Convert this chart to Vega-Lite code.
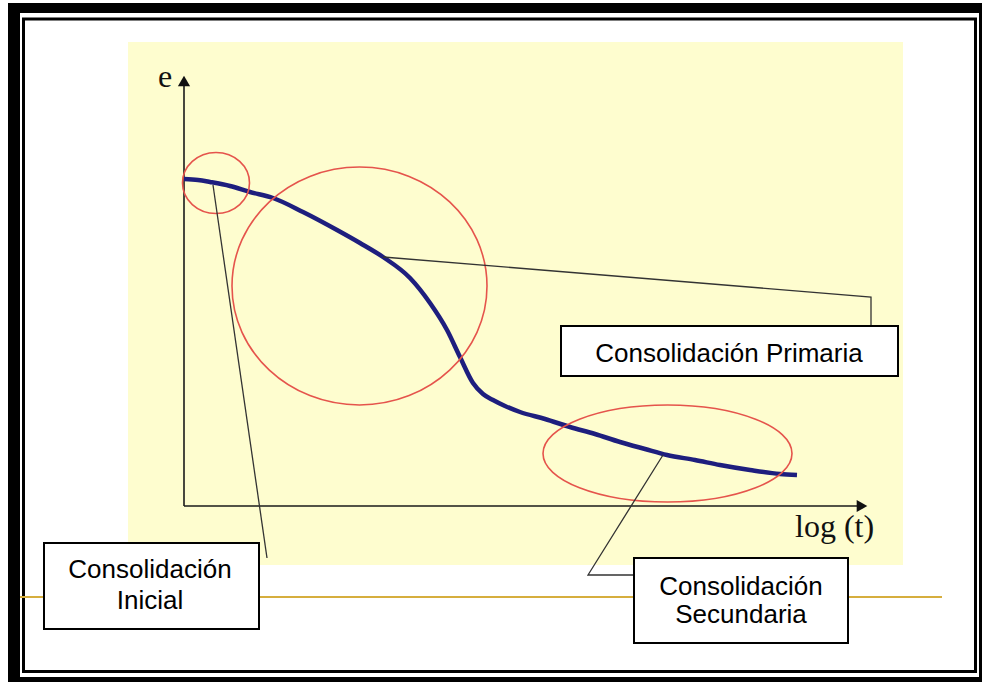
{
  "$schema": "https://vega.github.io/schema/vega-lite/v6.json",
  "width": 982,
  "height": 682,
  "autosize": {"type": "fit", "contains": "padding"},
  "padding": 0,
  "background": "white",
  "config": {"view": {"stroke": null}},
  "datasets": {
    "frameOuter": [
      {"x1": 8, "x2": 20, "y1": 3, "y2": 682},
      {"x1": 8, "x2": 982, "y1": 3, "y2": 13},
      {"x1": 979, "x2": 982, "y1": 3, "y2": 682},
      {"x1": 8, "x2": 982, "y1": 677, "y2": 682}
    ],
    "frameInner": [{"x1": 23.5, "x2": 975.5, "y1": 19, "y2": 671.5}],
    "panel": [{"x1": 128, "x2": 903, "y1": 42, "y2": 565}],
    "rule": [{"x": 20, "y": 597}, {"x": 942, "y": 597}],
    "axes": [
      {"a": "e", "o": 1, "x": 184, "y": 506},
      {"a": "e", "o": 2, "x": 184, "y": 86},
      {"a": "t", "o": 1, "x": 184, "y": 506},
      {"a": "t", "o": 2, "x": 857, "y": 506}
    ],
    "arrows": [
      {"dir": "up", "x": 184, "y": 81},
      {"dir": "right", "x": 862, "y": 506}
    ],
    "curve": [
      {"x": 184, "y": 179}, {"x": 198, "y": 180}, {"x": 210, "y": 182},
      {"x": 230, "y": 186}, {"x": 250, "y": 192}, {"x": 273, "y": 198},
      {"x": 303, "y": 212}, {"x": 337, "y": 230}, {"x": 360, "y": 243},
      {"x": 383, "y": 257}, {"x": 410, "y": 278}, {"x": 430, "y": 303},
      {"x": 447, "y": 330}, {"x": 460, "y": 357}, {"x": 473, "y": 383},
      {"x": 483, "y": 394}, {"x": 493, "y": 400}, {"x": 505, "y": 406},
      {"x": 520, "y": 412}, {"x": 545, "y": 419}, {"x": 570, "y": 427},
      {"x": 595, "y": 434}, {"x": 620, "y": 442}, {"x": 645, "y": 449},
      {"x": 667, "y": 455}, {"x": 695, "y": 460}, {"x": 720, "y": 465},
      {"x": 750, "y": 470}, {"x": 780, "y": 474}, {"x": 797, "y": 475}
    ],
    "zoneInicial": [{"x": 216, "y": 183}],
    "zonePrimaria": [{"x": 359.5, "y": 286}],
    "zoneSecundaria": [{"x": 667.5, "y": 453.5}],
    "leaders": [
      {"g": "ini", "o": 1, "x": 213, "y": 185},
      {"g": "ini", "o": 2, "x": 267, "y": 558},
      {"g": "pri", "o": 1, "x": 383, "y": 257},
      {"g": "pri", "o": 2, "x": 871, "y": 297},
      {"g": "pri", "o": 3, "x": 871, "y": 326},
      {"g": "sec", "o": 1, "x": 663, "y": 455},
      {"g": "sec", "o": 2, "x": 588, "y": 575},
      {"g": "sec", "o": 3, "x": 634, "y": 575}
    ],
    "boxes": [
      {"x1": 561, "x2": 898, "y1": 326, "y2": 376},
      {"x1": 44, "x2": 259, "y1": 543, "y2": 629},
      {"x1": 634, "x2": 848, "y1": 558, "y2": 643}
    ],
    "sansLabels": [
      {"t": "Consolidación Primaria", "x": 729, "y": 362},
      {"t": "Consolidación", "x": 150, "y": 578},
      {"t": "Inicial", "x": 150, "y": 609},
      {"t": "Consolidación", "x": 741, "y": 595},
      {"t": "Secundaria", "x": 741, "y": 623}
    ],
    "serifLabels": [
      {"t": "e", "x": 158, "y": 87},
      {"t": "log (t)", "x": 795, "y": 537}
    ]
  },
  "layer": [
    {
      "data": {"name": "frameOuter"},
      "mark": {"type": "rect", "fill": "black", "stroke": null},
      "encoding": {
        "x": {"field": "x1", "type": "quantitative", "scale": {"domain": [0, 982], "nice": false, "zero": false}, "axis": null},
        "x2": {"field": "x2"},
        "y": {"field": "y1", "type": "quantitative", "scale": {"domain": [0, 682], "nice": false, "zero": false, "reverse": true}, "axis": null},
        "y2": {"field": "y2"}
      }
    },
    {
      "data": {"name": "frameInner"},
      "mark": {"type": "rect", "fill": null, "stroke": "black", "strokeWidth": 3},
      "encoding": {
        "x": {"field": "x1", "type": "quantitative", "axis": null},
        "x2": {"field": "x2"},
        "y": {"field": "y1", "type": "quantitative", "axis": null},
        "y2": {"field": "y2"}
      }
    },
    {
      "data": {"name": "rule"},
      "mark": {"type": "line", "stroke": "#D6AE3E", "strokeWidth": 2},
      "encoding": {
        "x": {"field": "x", "type": "quantitative", "axis": null},
        "y": {"field": "y", "type": "quantitative", "axis": null}
      }
    },
    {
      "data": {"name": "panel"},
      "mark": {"type": "rect", "fill": "#FEFDCF", "stroke": null},
      "encoding": {
        "x": {"field": "x1", "type": "quantitative", "axis": null},
        "x2": {"field": "x2"},
        "y": {"field": "y1", "type": "quantitative", "axis": null},
        "y2": {"field": "y2"}
      }
    },
    {
      "data": {"name": "axes"},
      "mark": {"type": "line", "stroke": "#1a1a1a", "strokeWidth": 1.6},
      "encoding": {
        "x": {"field": "x", "type": "quantitative", "axis": null},
        "y": {"field": "y", "type": "quantitative", "axis": null},
        "detail": {"field": "a"},
        "order": {"field": "o"}
      }
    },
    {
      "data": {"name": "arrows"},
      "mark": {"type": "point", "filled": true, "color": "#111111", "size": 150, "opacity": 1},
      "encoding": {
        "x": {"field": "x", "type": "quantitative", "axis": null},
        "y": {"field": "y", "type": "quantitative", "axis": null},
        "shape": {"field": "dir", "type": "nominal", "scale": {"domain": ["up", "right"], "range": ["triangle-up", "triangle-right"]}, "legend": null}
      }
    },
    {
      "data": {"name": "curve"},
      "mark": {"type": "line", "stroke": "#1E1E7E", "strokeWidth": 4.5, "interpolate": "monotone", "strokeCap": "butt"},
      "encoding": {
        "x": {"field": "x", "type": "quantitative", "axis": null},
        "y": {"field": "y", "type": "quantitative", "axis": null}
      }
    },
    {
      "data": {"name": "zoneInicial"},
      "mark": {"type": "point", "filled": false, "stroke": "#E5544C", "strokeWidth": 1.6, "opacity": 1, "size": 4489, "shape": "M -1 0 A 1 0.91 0 1 0 1 0 A 1 0.91 0 1 0 -1 0 Z"},
      "encoding": {
        "x": {"field": "x", "type": "quantitative", "axis": null},
        "y": {"field": "y", "type": "quantitative", "axis": null}
      }
    },
    {
      "data": {"name": "zonePrimaria"},
      "mark": {"type": "point", "filled": false, "stroke": "#E5544C", "strokeWidth": 1.6, "opacity": 1, "size": 65025, "shape": "M -1 0 A 1 0.933 0 1 0 1 0 A 1 0.933 0 1 0 -1 0 Z"},
      "encoding": {
        "x": {"field": "x", "type": "quantitative", "axis": null},
        "y": {"field": "y", "type": "quantitative", "axis": null}
      }
    },
    {
      "data": {"name": "zoneSecundaria"},
      "mark": {"type": "point", "filled": false, "stroke": "#E5544C", "strokeWidth": 1.6, "opacity": 1, "size": 62001, "shape": "M -1 0 A 1 0.39 0 1 0 1 0 A 1 0.39 0 1 0 -1 0 Z"},
      "encoding": {
        "x": {"field": "x", "type": "quantitative", "axis": null},
        "y": {"field": "y", "type": "quantitative", "axis": null}
      }
    },
    {
      "data": {"name": "leaders"},
      "mark": {"type": "line", "stroke": "#333333", "strokeWidth": 1.3},
      "encoding": {
        "x": {"field": "x", "type": "quantitative", "axis": null},
        "y": {"field": "y", "type": "quantitative", "axis": null},
        "detail": {"field": "g"},
        "order": {"field": "o"}
      }
    },
    {
      "data": {"name": "boxes"},
      "mark": {"type": "rect", "fill": "white", "stroke": "black", "strokeWidth": 2},
      "encoding": {
        "x": {"field": "x1", "type": "quantitative", "axis": null},
        "x2": {"field": "x2"},
        "y": {"field": "y1", "type": "quantitative", "axis": null},
        "y2": {"field": "y2"}
      }
    },
    {
      "data": {"name": "sansLabels"},
      "mark": {"type": "text", "font": "Liberation Sans", "fontSize": 26, "align": "center", "baseline": "alphabetic", "color": "black"},
      "encoding": {
        "x": {"field": "x", "type": "quantitative", "axis": null},
        "y": {"field": "y", "type": "quantitative", "axis": null},
        "text": {"field": "t"}
      }
    },
    {
      "data": {"name": "serifLabels"},
      "mark": {"type": "text", "font": "Liberation Serif", "fontSize": 32, "align": "left", "baseline": "alphabetic", "color": "#111111"},
      "encoding": {
        "x": {"field": "x", "type": "quantitative", "axis": null},
        "y": {"field": "y", "type": "quantitative", "axis": null},
        "text": {"field": "t"}
      }
    }
  ]
}
